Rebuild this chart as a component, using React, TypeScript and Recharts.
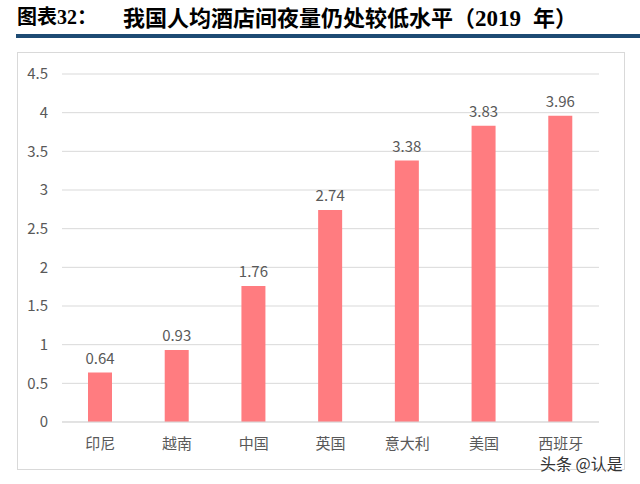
import { BarChart, Bar, XAxis, YAxis, CartesianGrid, LabelList } from "recharts";

const COUNTRIES = ["印尼", "越南", "中国", "英国", "意大利", "美国", "西班牙"];
const NIGHTS = [0.64, 0.93, 1.76, 2.74, 3.38, 3.83, 3.96];
const Y_TICKS = [0, 0.5, 1, 1.5, 2, 2.5, 3, 3.5, 4, 4.5];

const data = COUNTRIES.map((name, i) => ({ name, value: NIGHTS[i] }));

const FONT = '"Noto Sans CJK SC", "Noto Sans", sans-serif';
const SERIF = '"Liberation Serif", "DejaVu Serif", serif';
const AXIS_TEXT = { fill: "#595959", fontSize: 15, fontFamily: FONT };

export default function App() {
  return (
    <div
      style={{
        position: "absolute",
        left: 0,
        top: 0,
        width: 640,
        height: 484,
        background: "#fff",
        overflow: "hidden",
      }}
    >
      {/* title */}
      <div
        style={{
          position: "absolute",
          left: 17,
          top: 1,
          whiteSpace: "pre",
          fontFamily: FONT,
          fontWeight: 700,
          fontSize: 20,
          color: "#000",
        }}
      >
        图表<span style={{ fontFamily: SERIF }}>32</span>：
      </div>
      <div
        style={{
          position: "absolute",
          left: 123,
          top: 0,
          whiteSpace: "pre",
          fontFamily: FONT,
          fontWeight: 700,
          fontSize: 22,
          color: "#000",
        }}
      >
        我国人均酒店间夜量仍处较低水平（
        <span style={{ fontFamily: SERIF, fontSize: 23 }}>2019</span>
        <span style={{ marginLeft: 12 }}>年）</span>
      </div>
      <div
        style={{
          position: "absolute",
          left: 16,
          top: 34,
          width: 624,
          height: 4,
          background: "#1d4b73",
        }}
      />
      <div
        style={{
          position: "absolute",
          left: 17,
          top: 52,
          width: 606,
          height: 416,
          border: "1px solid #d9d9d9",
        }}
      >
        <BarChart
          width={606}
          height={416}
          data={data}
          margin={{ top: 21, right: 25, bottom: 0, left: 0 }}
        >
          <CartesianGrid vertical={false} stroke="#d9d9d9" />
          <XAxis
            dataKey="name"
            tick={AXIS_TEXT}
            tickLine={false}
            axisLine={{ stroke: "#d9d9d9" }}
            tickSize={0}
            tickMargin={16}
            height={47}
            interval={0}
          />
          <YAxis
            domain={[0, 4.5]}
            ticks={Y_TICKS}
            tick={AXIS_TEXT}
            tickLine={false}
            axisLine={false}
            tickSize={0}
            tickMargin={14}
            width={44}
          />
          <Bar dataKey="value" fill="#ff7c80" barSize={24} isAnimationActive={false}>
            <LabelList
              dataKey="value"
              position="top"
              offset={9}
              fill="#595959"
              fontSize={15}
              fontFamily={FONT}
            />
          </Bar>
        </BarChart>
      </div>
      <div
        style={{
          position: "absolute",
          left: 540,
          top: 451,
          fontFamily: FONT,
          fontSize: 16,
          color: "#333",
          textShadow: "0 0 2px #fff",
          whiteSpace: "pre",
        }}
      >
        头条 @认是
      </div>
    </div>
  );
}
